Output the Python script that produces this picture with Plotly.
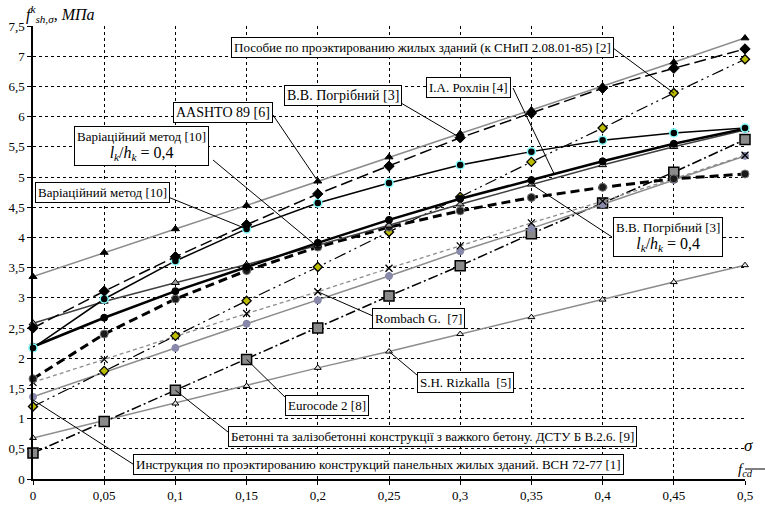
import numpy as np
import plotly.graph_objects as go

# ---------------- data ----------------
x_vals = [0, 0.05, 0.1, 0.15, 0.2, 0.25, 0.3, 0.35, 0.4, 0.45, 0.5]
x_ticktext = ["0", "0,05", "0,1", "0,15", "0,2", "0,25", "0,3", "0,35", "0,4", "0,45", "0,5"]
y_tickvals = [0, 0.5, 1, 1.5, 2, 2.5, 3, 3.5, 4, 4.5, 5, 5.5, 6, 6.5, 7, 7.5]

aashto = [3.35, 3.75, 4.14, 4.53, 4.93, 5.33, 5.72, 6.11, 6.50, 6.90, 7.30]
pogribnyi = [2.50, 3.11, 3.68, 4.21, 4.72, 5.18, 5.65, 6.06, 6.47, 6.80, 7.12]
variational = [2.17, 2.98, 3.61, 4.14, 4.57, 4.90, 5.20, 5.42, 5.61, 5.73, 5.81]
rokhlin = [2.19, 2.67, 3.11, 3.51, 3.91, 4.29, 4.64, 4.95, 5.26, 5.55, 5.80]
pogribnyi_lh = [2.58, 2.94, 3.25, 3.55, 3.87, 4.20, 4.55, 4.88, 5.20, 5.50, 5.78]
variational_lh = [1.66, 2.40, 2.98, 3.45, 3.84, 4.17, 4.44, 4.66, 4.83, 4.97, 5.05]
posobie = [1.20, 1.79, 2.37, 2.95, 3.51, 4.09, 4.67, 5.25, 5.81, 6.39, 6.95]
rombach = [1.60, 1.98, 2.37, 2.74, 3.10, 3.49, 3.86, 4.24, 4.60, 4.97, 5.36]
vsn = [1.36, 1.77, 2.17, 2.57, 2.96, 3.36, 3.77, 4.15, 4.55, 4.95, 5.35]
eurocode = [0.43, 0.95, 1.47, 1.98, 2.50, 3.03, 3.53, 4.06, 4.57, 5.08, 5.62]
rizkalla = [0.68, 0.97, 1.25, 1.54, 1.84, 2.11, 2.40, 2.68, 2.97, 3.26, 3.54]

# ---------------- geometry helpers (pixel -> data / paper) ----------------
L, R, T, B = 33, 745, 26, 479
W, H = 765, 507
XMAX, YMAX = 0.5, 7.5


def X(px):
    return (px - L) / (R - L) * XMAX


def Y(py):
    return (B - py) / (B - T) * YMAX


def PX(px):
    return (px - L) / (R - L)


def PY(py):
    return (B - py) / (B - T)


fig = go.Figure()


def add(vals, color, width, dash, symbol, msize, mfill, mline, mlw, name):
    fig.add_trace(go.Scatter(
        x=x_vals, y=vals, mode="lines+markers", name=name,
        line=dict(color=color, width=width, dash=dash),
        marker=dict(symbol=symbol, size=msize, color=mfill,
                    line=dict(color=mline, width=mlw)),
        cliponaxis=False, showlegend=False, hoverinfo="skip"))


add(rizkalla, "#8c8c8c", 1.5, "solid", "triangle-up", 6, "#e8e8e8", "#000000", 1, "S.H. Rizkalla [5]")
add(eurocode, "#000000", 1.5, "10px,3px,2px,3px", "square", 10, "#8a8a8a", "#000000", 1.5, "Eurocode 2 [8]")
add(vsn, "#8c8c8c", 1.5, "solid", "circle", 7, "#8888aa", "#8888aa", 1, "ВСН 72-77 [1]")
add(rombach, "#8c8c8c", 1.3, "4px,3px", "x-thin", 7, "#000000", "#000000", 1.3, "Rombach G. [7]")
add(posobie, "#000000", 1.2, "12px,4px,2px,4px,2px,4px", "diamond", 7, "#bcbc00", "#000000", 1.3, "Пособие [2]")
add(variational_lh, "#000000", 3, "9px,5px", "circle", 8, "#1a1a1a", "#777777", 1, "Варіаційний метод l/h")
add(pogribnyi_lh, "#404040", 1.5, "solid", "triangle-up", 7, "#a0a0a0", "#000000", 1, "Погрібний l/h")
add(rokhlin, "#000000", 2.5, "solid", "circle", 7, "#000000", "#000000", 1, "І.А. Рохлін [4]")
add(variational, "#000000", 1.5, "solid", "circle", 8, "#000000", "#80ffff", 1.5, "Варіаційний метод [10]")
add(pogribnyi, "#000000", 1.5, "12px,5px", "diamond", 8, "#000000", "#000000", 1, "В.В. Погрібний [3]")
add(aashto, "#8c8c8c", 1.5, "solid", "triangle-up", 7, "#000000", "#000000", 1, "AASHTO 89 [6]")

FONT = "Liberation Serif"
annotations = []
shapes = []


def label(text, cx, cy, attach, target, size=13):
    annotations.append(dict(
        x=PX(cx), y=PY(cy), xref="paper", yref="paper", text=text, showarrow=False,
        font=dict(family=FONT, size=size, color="#000000"),
        bgcolor="#ffffff", bordercolor="#000000", borderwidth=1, borderpad=2,
        xanchor="center", yanchor="middle"))
    shapes.append(dict(type="line", xref="x", yref="y",
                       x0=X(attach[0]), y0=Y(attach[1]), x1=target[0], y1=target[1],
                       line=dict(color="#000000", width=1)))


LH = "<span style='font-size:16px'><i>l</i><sub><i>k</i></sub>/<i>h</i><sub><i>k</i></sub> = 0,4</span>"

label("Пособие по проэктированию жилых зданий (к СНиП 2.08.01-85) [2]", 422, 47,
      (613, 48), (x_vals[9], posobie[9]))
label("В.В. Погрібний [3]", 343, 95, (401, 103), (x_vals[6], pogribnyi[6]), 14)
label("І.А. Рохлін [4]", 468, 87, (513, 88), (0.366, float(np.interp(0.366, x_vals, rokhlin))), 13)
label("AASHTO 89 [6]", 223, 113, (273, 115), (x_vals[4], aashto[4]), 14)
label("Варіаційний метод [10]<br>" + LH, 141, 146, (213, 160), (x_vals[4], variational_lh[4]))
label("Варіаційний метод [10]", 102, 192, (168, 197), (x_vals[3], variational[3]))
label("Rombach G.  [7]", 418, 318, (373, 316), (x_vals[4], rombach[4]), 13)
label("S.H. Rizkalla  [5]", 465, 382, (417, 375), (x_vals[5], rizkalla[5]), 13)
label("Eurocode 2 [8]", 327, 405, (288, 400), (x_vals[3], eurocode[3]))
label("Бетонні та залізобетонні конструкції з важкого бетону. ДСТУ Б В.2.6. [9]", 432, 436,
      (228, 432), (x_vals[2], eurocode[2]))
label("Инструкция по проэктированию конструкций панельных жилых зданий. ВСН 72-77 [1]", 378, 464,
      (136, 466), (x_vals[0], vsn[0] - 0.05))
label("В.В. Погрібний [3]<br>" + LH, 668, 237, (612, 237), (x_vals[7], pogribnyi_lh[7]))

# axis titles (paper coordinates so they are drawn outside the plotting range)
annotations.append(dict(
    x=PX(24), y=PY(14), xref="paper", yref="paper", xanchor="left", yanchor="middle", showarrow=False,
    text="<i>f</i><sup><i>k</i></sup><sub><i>sh,σ</i></sub><i>, МПа</i>",
    font=dict(family=FONT, size=16, color="#000000")))
annotations.append(dict(
    x=PX(755), y=PY(457), xref="paper", yref="paper", showarrow=False, text="<i>σ</i>",
    font=dict(family=FONT, size=17, color="#000000")))
annotations.append(dict(
    x=PX(755), y=PY(481), xref="paper", yref="paper", showarrow=False, text="<i>f</i><sub><i>cd</i></sub>",
    font=dict(family=FONT, size=15, color="#000000")))
shapes.append(dict(type="line", xref="paper", yref="paper", x0=PX(745), x1=PX(765), y0=PY(469), y1=PY(469),
                   line=dict(color="#000000", width=1)))

fig.update_layout(
    width=W, height=H,
    margin=dict(l=L, r=W - R, t=T, b=H - B, autoexpand=False),
    paper_bgcolor="#ffffff", plot_bgcolor="#ffffff",
    separators=", ",
    annotations=annotations, shapes=shapes,
    font=dict(family=FONT, size=13, color="#000000"),
    xaxis=dict(range=[0, XMAX], tickvals=x_vals, ticktext=x_ticktext, automargin=False,
               showgrid=True, gridcolor="#000000", griddash="dot", gridwidth=1,
               showline=True, linecolor="#000000", linewidth=1.5, zeroline=False,
               ticks="outside", ticklen=4, tickcolor="#000000",
               tickfont=dict(family=FONT, size=13)),
    yaxis=dict(range=[0, YMAX], tickvals=y_tickvals, automargin=False,
               showgrid=True, gridcolor="#000000", griddash="dot", gridwidth=1,
               showline=True, linecolor="#000000", linewidth=1.5, zeroline=False,
               ticks="outside", ticklen=4, tickcolor="#000000",
               tickfont=dict(family=FONT, size=13)),
)

fig.write_html("out.html", config={"displayModeBar": False},
               post_script="document.body.style.margin='0';")
